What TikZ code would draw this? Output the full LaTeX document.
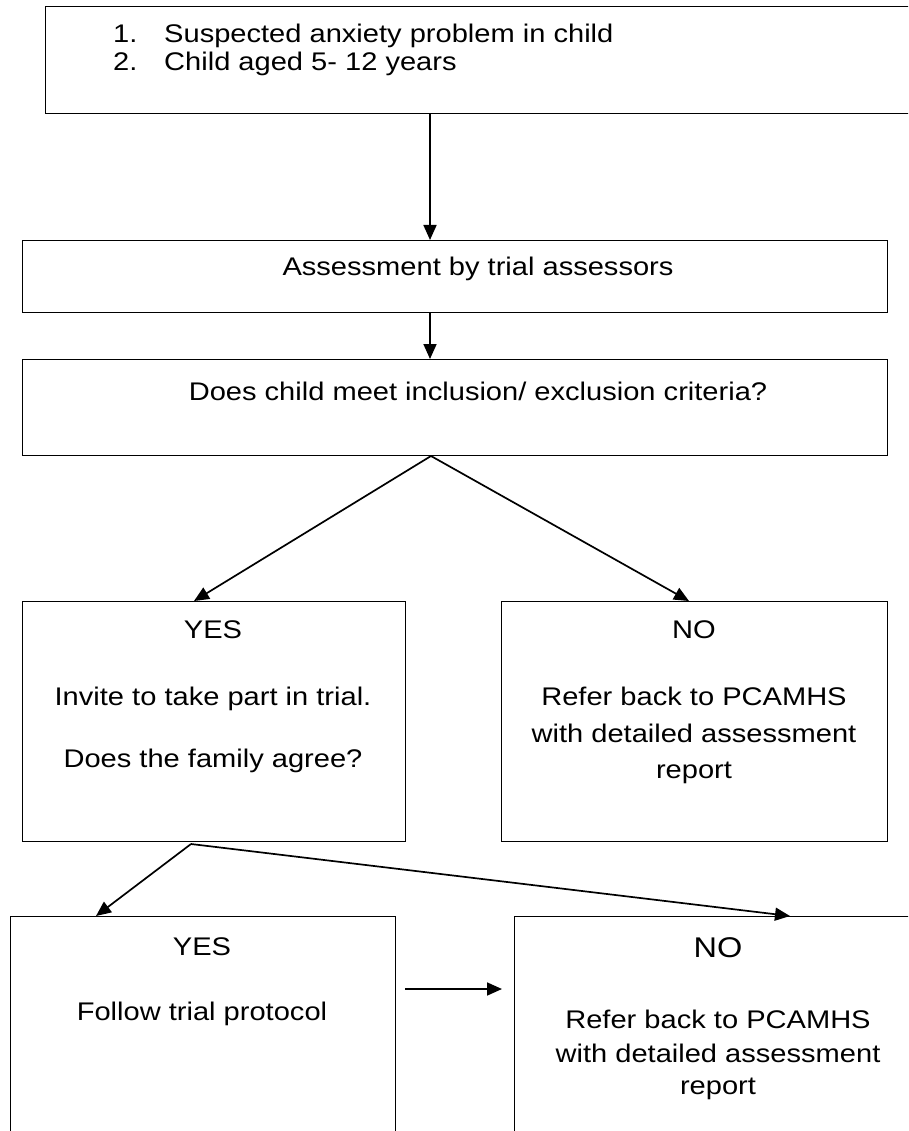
\documentclass[tikz,border=0pt]{standalone}
\usepackage{fontspec}
\setmainfont{Liberation Sans}[FakeStretch=1.14]
\usetikzlibrary{arrows.meta}
\begin{document}
\begin{tikzpicture}[x=1pt,y=-1pt,
  box/.style={draw, line width=1.4pt, rectangle, inner sep=0pt, anchor=north west},
  arr/.style={-{Triangle[length=15pt,width=13pt]}, line width=1.7pt},
  txt/.style={font=\fontsize{25.5}{30}\selectfont, inner sep=0pt, anchor=base},
  bigtxt/.style={font=\fontsize{28.5}{33}\selectfont, inner sep=0pt, anchor=base}]
\useasboundingbox (0,0) rectangle (908,1131);
\clip (0,0) rectangle (908,1131);
% boxes
\node[box, minimum width=875pt, minimum height=107pt] (top) at (45,6) {};
\node[box, minimum width=865pt, minimum height=72pt] (box2) at (22,240) {};
\node[box, minimum width=865pt, minimum height=96pt] (box3) at (22,359) {};
\node[box, minimum width=383pt, minimum height=240pt] (yes) at (22,601) {};
\node[box, minimum width=386pt, minimum height=240pt] (no) at (501,601) {};
\node[box, minimum width=385pt, minimum height=260pt] (yes2) at (10,916) {};
\node[box, minimum width=408pt, minimum height=260pt] (no2) at (514,916) {};
% texts
\node[txt, anchor=base west] (n1) at (113,43) {1.};
\node[txt, anchor=base west] (s1) at (164,43) {Suspected anxiety problem in child};
\node[txt, anchor=base west] (n2) at (113,71) {2.};
\node[txt, anchor=base west] (s2) at (164,71) {Child aged 5- 12 years};
\node[txt] (t2) at (478,276) {Assessment by trial assessors};
\node[txt] (t3) at (478,400) {Does child meet inclusion/ exclusion criteria?};
\node[txt] (y1) at (213,638) {YES};
\node[txt] (y2) at (213,705) {Invite to take part in trial.};
\node[txt] (y3) at (213,767) {Does the family agree?};
\node[txt] (o1) at (694,638) {NO};
\node[txt] (o2) at (694,705) {Refer back to PCAMHS};
\node[txt] (o3) at (694,742) {with detailed assessment};
\node[txt] (o4) at (694,778) {report};
\node[txt] (yy1) at (202,955) {YES};
\node[txt] (yy2) at (202,1020) {Follow trial protocol};
\node[bigtxt] (oo1) at (718,957) {NO};
\node[txt] (oo2) at (718,1028) {Refer back to PCAMHS};
\node[txt] (oo3) at (718,1062) {with detailed assessment};
\node[txt] (oo4) at (718,1094) {report};
% connector coordinates
\coordinate (ax) at (430,0);
\coordinate (split1) at (431,456);
\coordinate (yesin) at (194,601);
\coordinate (noin) at (689,601);
\coordinate (split2) at (191,844);
\coordinate (yes2in) at (96,916);
\coordinate (no2in) at (790,916);
\coordinate (hstart) at (405,989);
\coordinate (hend) at (502,989);
% connectors
\draw[arr] (ax |- top.south) -- (ax |- box2.north);
\draw[arr] (ax |- box2.south) -- (ax |- box3.north);
\draw[arr] (split1) -- (yesin);
\draw[arr] (split1) -- (noin);
\draw[arr] (split2) -- (yes2in);
\draw[arr] (split2) -- (no2in);
\draw[arr] (hstart) -- (hend);
\end{tikzpicture}
\end{document}
